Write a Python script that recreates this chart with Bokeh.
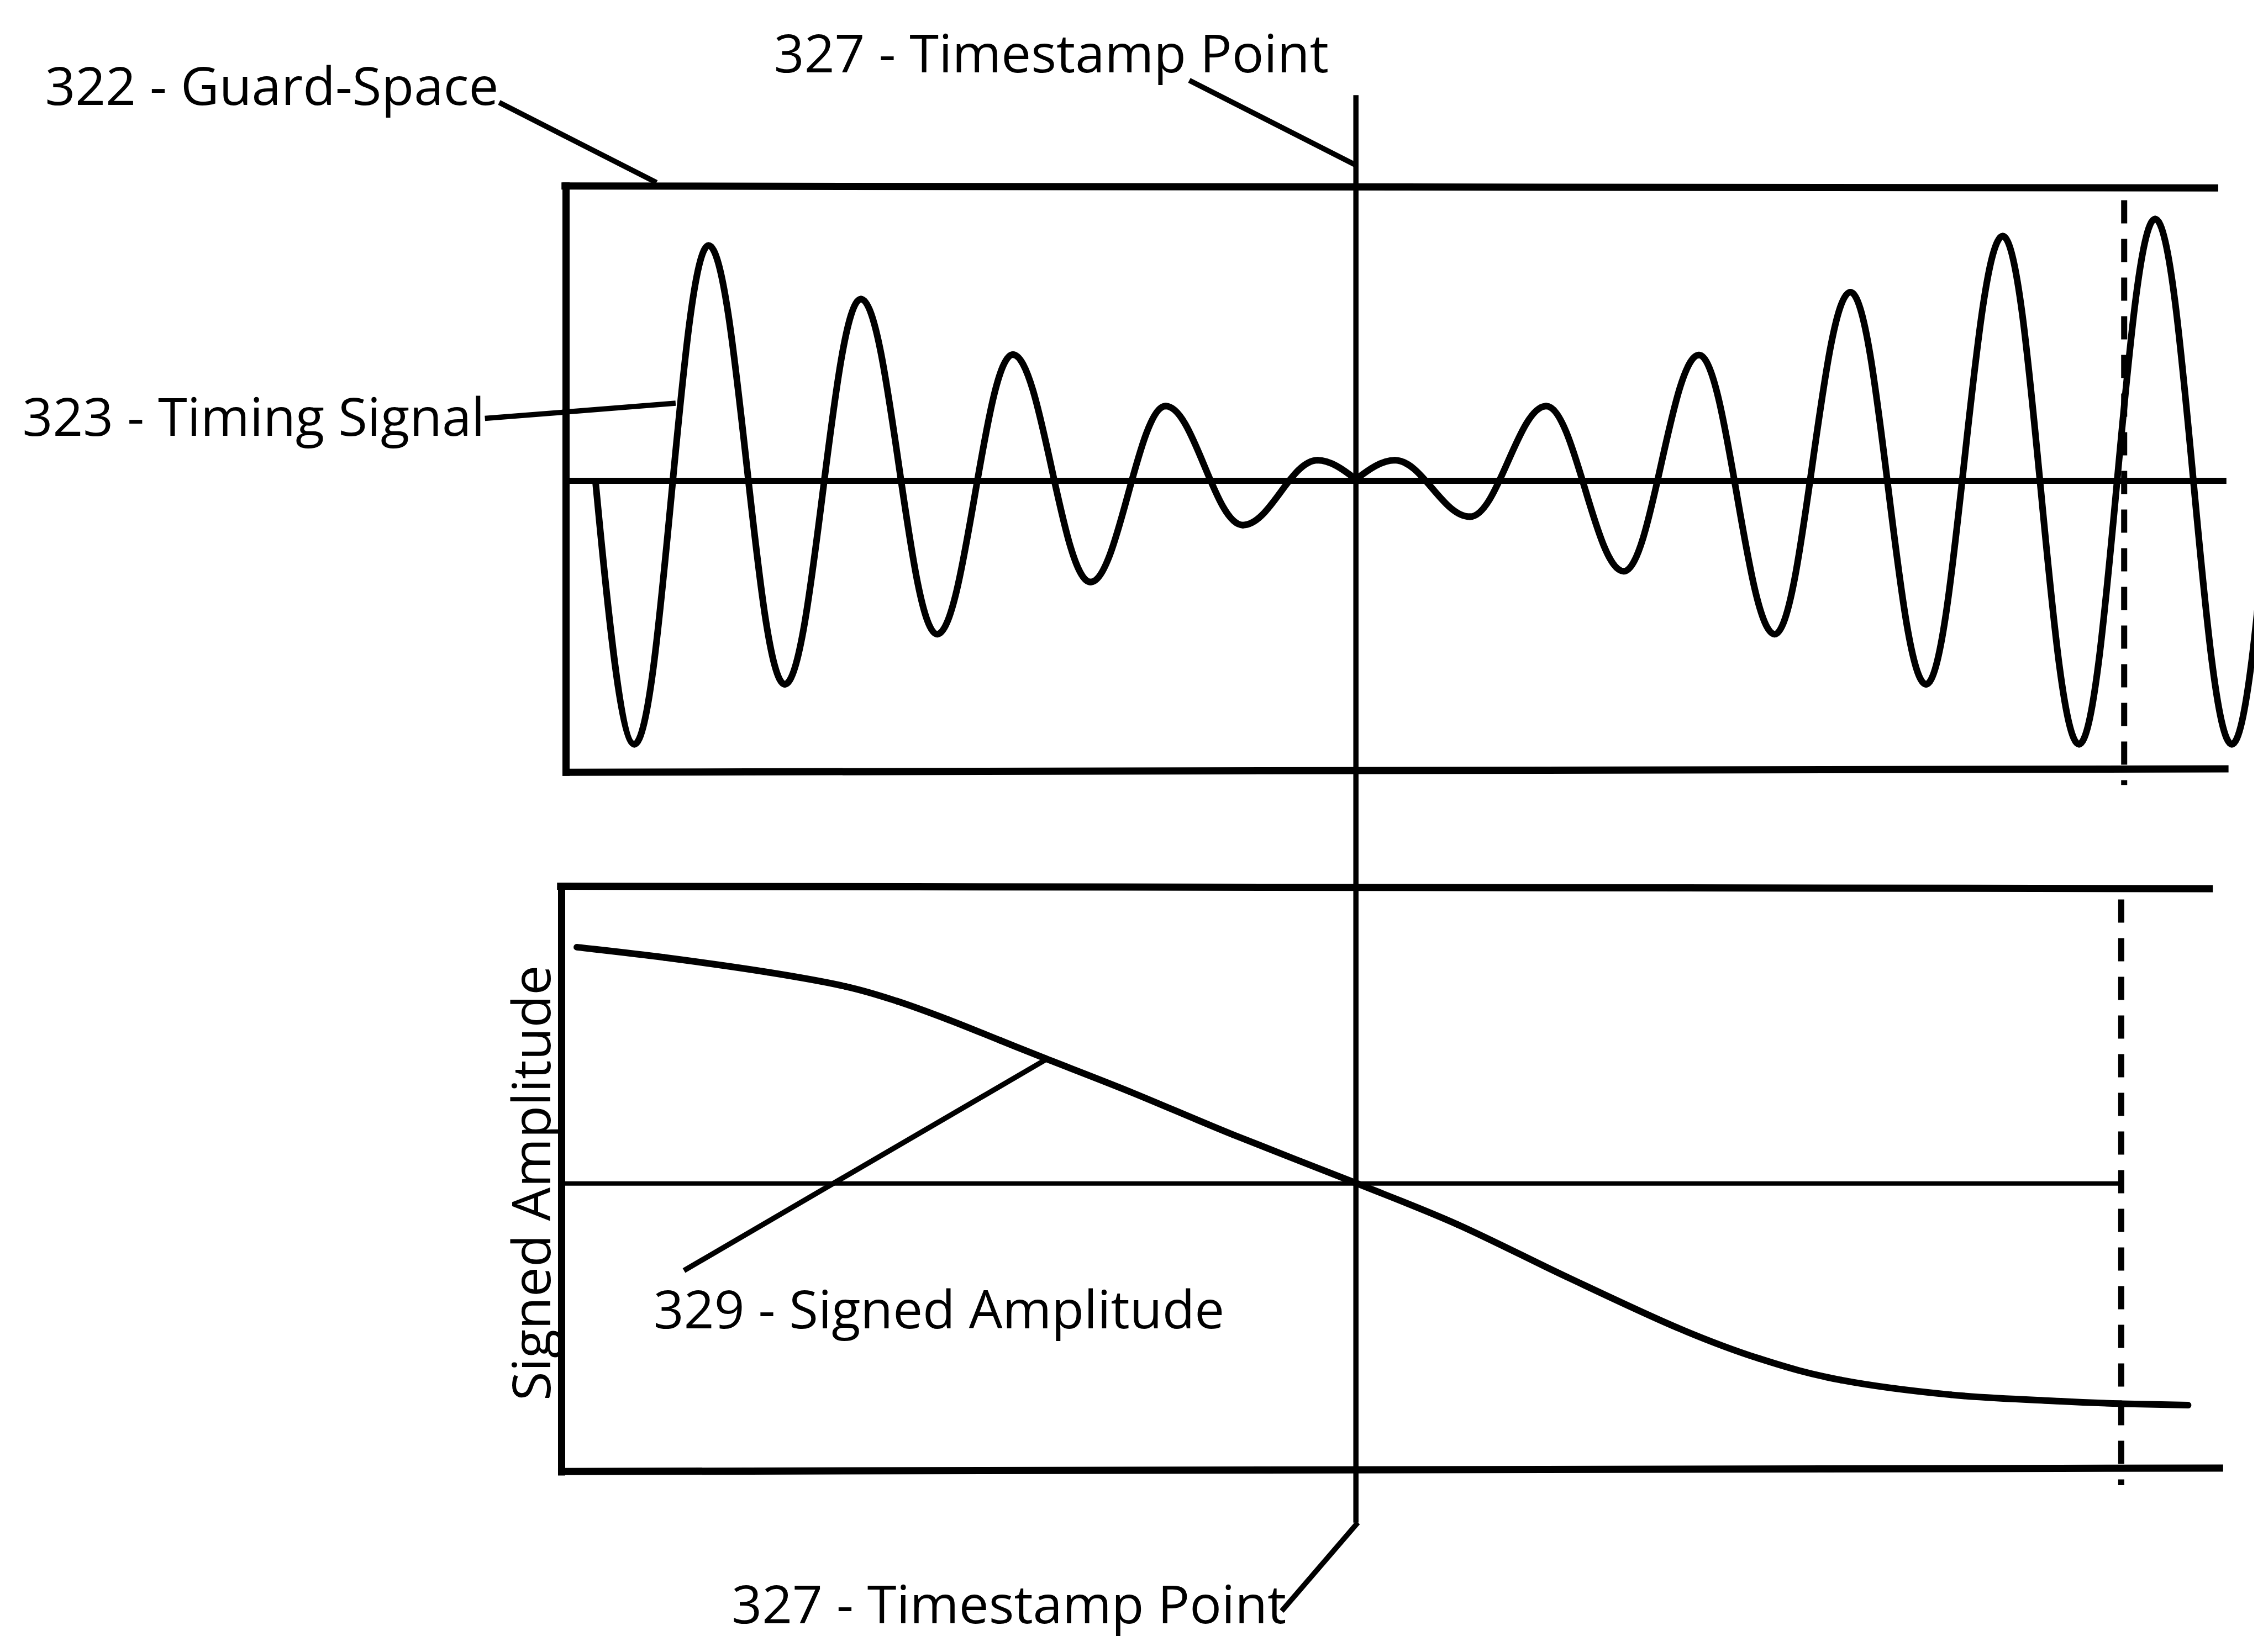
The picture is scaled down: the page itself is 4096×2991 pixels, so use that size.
from math import pi
from bokeh.plotting import figure
from bokeh.models import Range1d
from bokeh.embed import file_html
from bokeh.resources import INLINE
from bokeh.core.properties import value

# ---------------- data (drawing coordinates of the reference sheet, y grows downward) -------------
# 323 - Timing signal: turning points ("e" = extremum, "z" = point on the zero line)
wave_x = [1220, 1299, 1450, 1605, 1760, 1915, 2069, 2227, 2380, 2537, 2689, 2767,
          2846, 2999, 3154, 3312, 3465, 3619, 3773, 3927, 4083, 4238, 4393, 4549, 4704]
wave_y = [988, 1523, 508, 1401, 617, 1299, 730, 1193, 835, 1077, 945, 984,
          945, 1060, 835, 1171, 731, 1299, 603, 1401, 489, 1523, 454, 1523, 454]
wave_kind = ["z", "e", "e", "e", "e", "e", "e", "e", "e", "e", "e", "z",
             "e", "e", "e", "e", "e", "e", "e", "e", "e", "e", "e", "e", "e"]

# 329 - Signed amplitude curve
amp_x = [1182, 1360, 1571, 1729, 1834, 1939, 2044, 2134, 2307, 2518, 2767,
         2973, 3196, 3420, 3587, 3754, 3978, 4201, 4324, 4460]
amp_y = [1936, 1957, 1987, 2016, 2046, 2084, 2126, 2162, 2230, 2318, 2416,
         2500, 2607, 2710, 2773, 2817, 2847, 2860, 2865, 2868]

# Panel frames (322 - guard space) : top, left, bottom edges
upper_frame_xs = [[1158, 4514], [1160, 1160], [1160, 4535]]
upper_frame_ys = [[387, 391], [387, 1580], [1580, 1573]]
lower_frame_xs = [[1149, 4503], [1151, 1151], [1151, 4524]]
lower_frame_ys = [[1812, 1817], [1812, 3004], [3003, 2996]]

# zero lines
upper_zero_x = [1160, 4538]
upper_zero_y = [987, 987]
lower_zero_x = [1151, 4327]
lower_zero_y = [2417, 2417]

# dashed end-of-window markers
dash_xs = [[4330, 4330], [4324, 4324]]
dash_ys = [[416, 1606], [1839, 3031]]

# 327 - timestamp point vertical
stamp_x = [2767, 2767]
stamp_y = [202, 3107]

# leader lines
lead_xs = [[1024, 1344], [2428, 2768], [995, 1383], [1400, 2134], [2771, 2616]]
lead_ys = [[217, 380], [172, 345], [860, 829], [2594, 2166], [3107, 3287]]

# labels (left end, baseline)
label_text = ["322 - Guard-Space", "327 - Timestamp Point", "323 - Timing Signal",
              "329 - Signed Amplitude", "327 - Timestamp Point"]
label_x = [100, 1583, 54, 1338, 1497]
label_y = [212, 145, 885, 2701, 3302]
axis_label = "Signed Amplitude"
axis_label_x = [1118]
axis_label_y = [2416]

# ---------------- figure -------------
S = 4096 / 4604.0
W, H = 4080, 2975
p = figure(width=W, height=H,
           x_range=Range1d(8 / S, (8 + W) / S),
           y_range=Range1d((8 + H) / S, 8 / S),
           output_backend="svg", toolbar_location=None,
           x_axis_location=None, y_axis_location=None, min_border=0)
p.grid.visible = False
p.outline_line_color = None
p.background_fill_color = "white"
p.border_fill_color = "white"

BLACK = "#000000"
BASE_SHIFT = 32  # renderer places the alphabetic baseline slightly low; compensate

# frames
p.multi_line(upper_frame_xs, upper_frame_ys, line_color=BLACK, line_width=13, line_cap="square")
p.multi_line(lower_frame_xs, lower_frame_ys, line_color=BLACK, line_width=13, line_cap="square")
# zero lines
p.line(upper_zero_x, upper_zero_y, line_color=BLACK, line_width=11)
p.line(lower_zero_x, lower_zero_y, line_color=BLACK, line_width=8)
# dashed markers
p.multi_line(dash_xs, dash_ys, line_color=BLACK, line_width=11, line_dash="42 28")
# timestamp vertical
p.line(stamp_x, stamp_y, line_color=BLACK, line_width=9.5)
# leaders
p.multi_line(lead_xs, lead_ys, line_color=BLACK, line_width=9.5)

# timing signal: bezier segments between turning points
x0, y0, x1, y1, cx0, cy0, cx1, cy1 = [], [], [], [], [], [], [], []
for i in range(len(wave_x) - 1):
    xa, ya, ka = wave_x[i], wave_y[i], wave_kind[i]
    xb, yb, kb = wave_x[i + 1], wave_y[i + 1], wave_kind[i + 1]
    dx, dy = xb - xa, yb - ya
    if ka == "e" and kb == "e":
        c0 = (xa + 0.3634 * dx, ya)
        c1 = (xb - 0.3634 * dx, yb)
    elif ka == "z":
        c0 = (xa + 0.3343 * dx, ya + 0.5251 * dy)
        c1 = (xb - 0.3336 * dx, yb)
    else:
        c0 = (xa + 0.3336 * dx, ya)
        c1 = (xb - 0.3343 * dx, yb - 0.5251 * dy)
    x0.append(xa); y0.append(ya); x1.append(xb); y1.append(yb)
    cx0.append(c0[0]); cy0.append(c0[1]); cx1.append(c1[0]); cy1.append(c1[1])
p.bezier(x0=x0, y0=y0, x1=x1, y1=y1, cx0=cx0, cy0=cy0, cx1=cx1, cy1=cy1,
         line_color=BLACK, line_width=12, line_cap="round")

# signed amplitude curve: smooth (Catmull-Rom style) bezier through the read points
n = len(amp_x)
ax0, ay0, ax1, ay1, acx0, acy0, acx1, acy1 = [], [], [], [], [], [], [], []
for i in range(n - 1):
    pm = max(i - 1, 0)
    pp = min(i + 2, n - 1)
    ax0.append(amp_x[i]); ay0.append(amp_y[i])
    ax1.append(amp_x[i + 1]); ay1.append(amp_y[i + 1])
    acx0.append(amp_x[i] + (amp_x[i + 1] - amp_x[pm]) / 6.0)
    acy0.append(amp_y[i] + (amp_y[i + 1] - amp_y[pm]) / 6.0)
    acx1.append(amp_x[i + 1] - (amp_x[pp] - amp_x[i]) / 6.0)
    acy1.append(amp_y[i + 1] - (amp_y[pp] - amp_y[i]) / 6.0)
p.bezier(x0=ax0, y0=ay0, x1=ax1, y1=ay1, cx0=acx0, cy0=acy0, cx1=acx1, cy1=acy1,
         line_color=BLACK, line_width=12, line_cap="round")

# labels
p.text(x=label_x, y=[v - BASE_SHIFT for v in label_y], text=label_text,
       text_font=value("Open Sans"), text_font_size="96px", text_color=BLACK,
       text_align="left", text_baseline="alphabetic")
p.text(x=[v - BASE_SHIFT for v in axis_label_x], y=axis_label_y, text=[axis_label],
       angle=pi / 2, text_font=value("Open Sans"), text_font_size="96px",
       text_color=BLACK, text_align="center", text_baseline="alphabetic")

open("out.html", "w").write(file_html(p, INLINE))
